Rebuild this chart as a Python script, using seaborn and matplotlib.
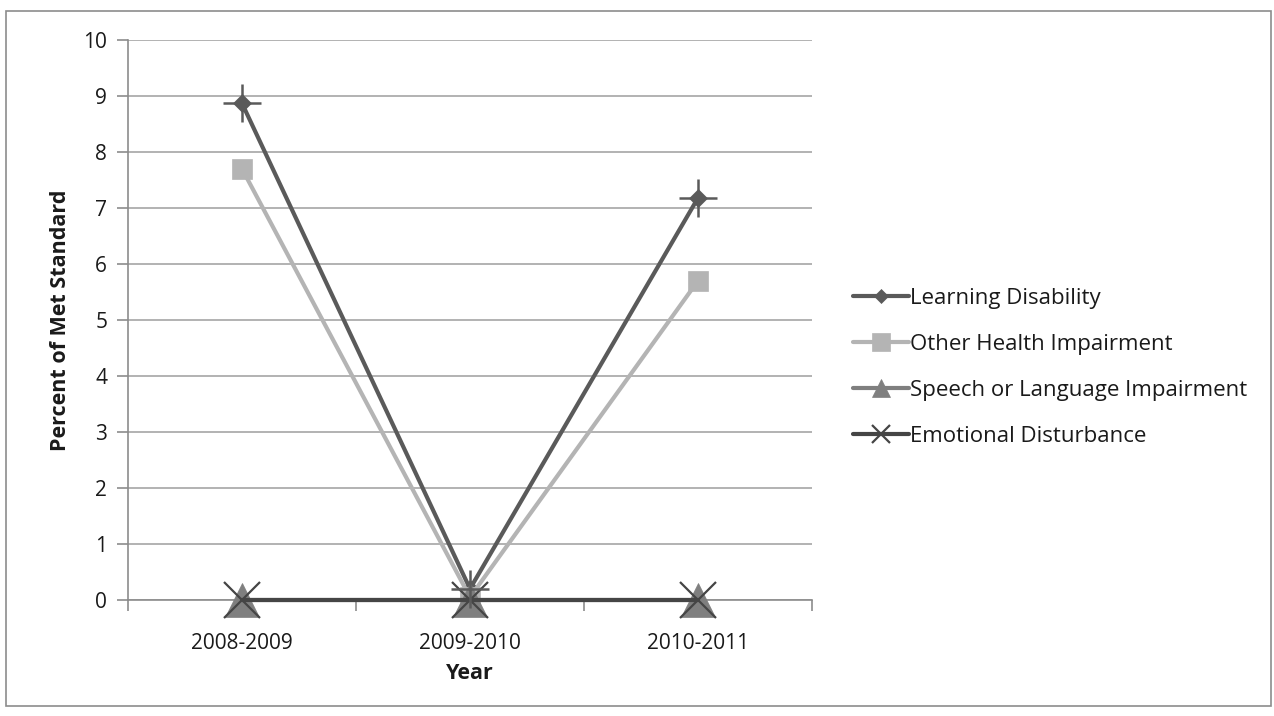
import matplotlib
matplotlib.use("Agg")
import matplotlib.pyplot as plt
import seaborn as sns
import pandas as pd
from matplotlib.patches import Rectangle

years = ["2008-2009", "2009-2010", "2010-2011"]
learning_disability = [8.87, 0.2, 7.18]
other_health = [7.7, 0.05, 5.7]
speech_language = [0.0, 0.0, 0.0]
emotional_disturbance = [0.0, 0.0, 0.0]

series = {
    "Learning Disability": learning_disability,
    "Other Health Impairment": other_health,
    "Speech or Language Impairment": speech_language,
    "Emotional Disturbance": emotional_disturbance,
}

styles = {
    "Learning Disability": dict(color="#5a5a5a", marker="D", ms=9.5, mew=0.5, leg_ms=7),
    "Other Health Impairment": dict(color="#b4b4b4", marker="s", ms=14, mew=0.5, leg_ms=13),
    "Speech or Language Impairment": dict(color="#7f7f7f", marker="^", ms=25, mew=0.5, leg_ms=13),
    "Emotional Disturbance": dict(color="#454545", marker="x", ms=26, mew=1.6, leg_ms=13),
}

rows = []
for name, vals in series.items():
    for i, (yr, v) in enumerate(zip(years, vals)):
        rows.append({"Year": yr, "pos": i, "value": v, "series": name})
df = pd.DataFrame(rows)

sns.set_theme(style="white")
plt.rcParams["font.family"] = ["Open Sans", "DejaVu Sans"]

fig = plt.figure(figsize=(12.74, 7.16), dpi=100)
ax = fig.add_axes([128 / 1274, 1 - 600 / 716, 684 / 1274, 560 / 716])

# outer chart frame
fig.patches.append(Rectangle((6 / 1274, 1 - 706 / 716), 1265 / 1274, 695 / 716,
                             transform=fig.transFigure, fill=False,
                             edgecolor="#8c8c8c", linewidth=1.2))

for name in series:
    st = styles[name]
    sub = df[df["series"] == name]
    sns.lineplot(data=sub, x="pos", y="value", ax=ax, color=st["color"],
                 linewidth=3, marker=st["marker"], markersize=st["ms"],
                 markeredgecolor=st["color"], markeredgewidth=st["mew"],
                 label=name, zorder=3, clip_on=False)

# cross bars on the learning disability points
ld = df[df["series"] == "Learning Disability"]
ax.plot(ld["pos"], ld["value"], linestyle="none", marker="+", markersize=27,
        markeredgewidth=1.8, color="#5a5a5a", zorder=4, clip_on=False)

ax.set_xlim(-0.5, 2.5)
ax.set_ylim(0, 10)
ax.set_yticks(range(0, 11))
ax.set_xticks(range(3))
ax.set_xticklabels(years)
ax.set_xticks([-0.5, 0.5, 1.5, 2.5], minor=True)
ax.yaxis.grid(True, color="#a6a6a6", linewidth=1.2)
ax.xaxis.grid(False)
ax.set_axisbelow(True)

for side in ["top", "right"]:
    ax.spines[side].set_visible(False)
for side in ["left", "bottom"]:
    ax.spines[side].set_color("#8c8c8c")
    ax.spines[side].set_linewidth(1.2)
    ax.spines[side].set_zorder(1)

ax.tick_params(axis="y", which="major", left=True, length=8, width=1.2,
               color="#8c8c8c", labelsize=15, labelcolor="#1a1a1a", pad=7)
ax.tick_params(axis="x", which="major", bottom=False, labelsize=15,
               labelcolor="#1a1a1a", pad=18)
ax.tick_params(axis="x", which="minor", bottom=True, length=8, width=1.2,
               color="#8c8c8c")

ax.set_xlabel("Year", fontsize=15.5, fontweight="bold", color="#1a1a1a", labelpad=6)
ax.set_ylabel("Percent of Met Standard", fontsize=15.5, fontweight="bold",
              color="#1a1a1a", labelpad=9)

handles, labels = ax.get_legend_handles_labels()
leg = fig.legend(handles[:4], labels[:4], loc="upper left",
                 bbox_to_anchor=(833 / 1274, 1 - 268 / 716), frameon=False,
                 fontsize=16, labelspacing=1.12, handlelength=2.5,
                 handletextpad=0.05)
for t in leg.get_texts():
    t.set_color("#1a1a1a")
for h, name in zip(leg.legend_handles, labels[:4]):
    h.set_markersize(styles[name]["leg_ms"])
ax.get_legend().remove()

fig.savefig("out.png", dpi=100)
